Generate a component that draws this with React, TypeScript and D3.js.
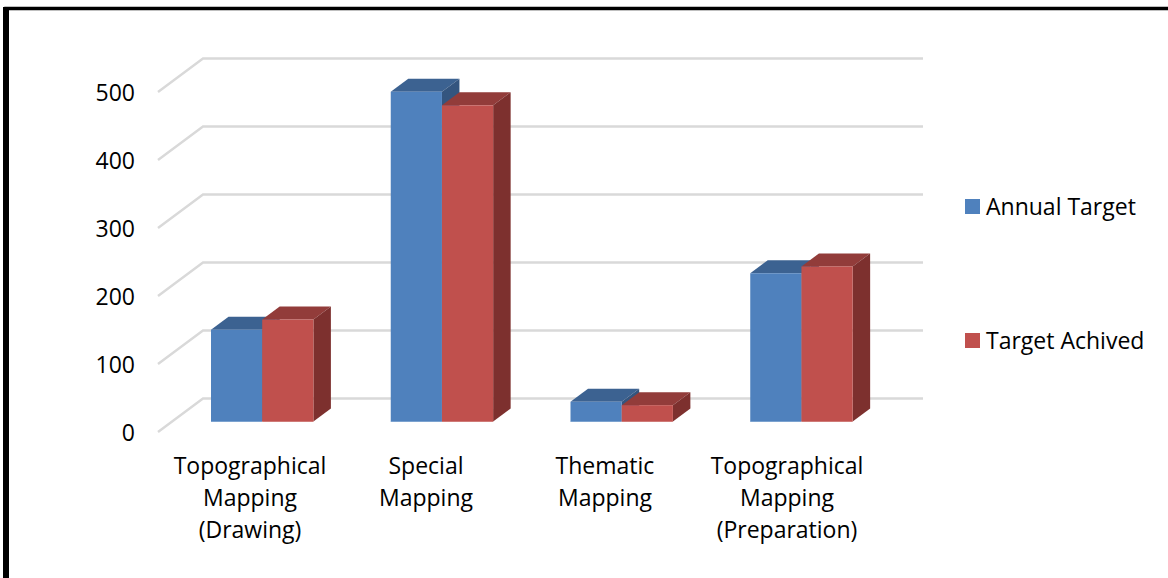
import React from "react";
import * as d3 from "d3";

const categories = ["Topographical Mapping (Drawing)", "Special Mapping", "Thematic Mapping", "Topographical Mapping (Preparation)"];
const categoryLines = [["Topographical", "Mapping", "(Drawing)"], ["Special", "Mapping"], ["Thematic", "Mapping"], ["Topographical", "Mapping", "(Preparation)"]];
const labelCentres = [250, 426, 605, 787];
const annualTarget = [135, 485, 29, 218];
const targetAchieved = [150, 465, 24, 228];
const seriesNames = ["Annual Target", "Target Achived"];
const ticks = [0, 100, 200, 300, 400, 500];

const font = "'Open Sans', sans-serif";
const frontColors = ["#4f81bd", "#c0504d"];
const edgeColors = ["#a9c2e0", "#dfa5a3"];
const topColors = ["#3c6291", "#923c3a"];
const sideColors = ["#34557f", "#7d302e"];

const y = d3.scaleLinear().domain([0, 500]).range([432, 92]);
const x = d3.scaleBand().domain(categories).range([158, 877]);
const wallDx = 45, wallDy = -33.5;
const barDx = 17.5, barDy = -13;
const floorLift = 10.5;
const barW = 51.2;
const barOffset = 53;
const wallRight = 923;

function Bar({ x0, value, s }: { x0: number; value: number; s: number }) {
  const yb = y(0) - floorLift;
  const yt = y(value) - floorLift;
  const x1 = x0 + barW;
  return (
    <g>
      <polygon points={`${x0},${yt} ${x0 + barDx},${yt + barDy} ${x1 + barDx},${yt + barDy} ${x1},${yt}`} fill={topColors[s]} />
      <polygon points={`${x1},${yt} ${x1 + barDx},${yt + barDy} ${x1 + barDx},${yb + barDy} ${x1},${yb}`} fill={sideColors[s]} />
      <line x1={x0} x2={x1} y1={yb} y2={yb} stroke={edgeColors[s]} strokeWidth={1.2} />
      <rect x={x0} y={yt} width={barW} height={yb - yt} fill={frontColors[s]} />
    </g>
  );
}

export default function App() {
  return (
    <svg width={1168} height={578} style={{ position: "absolute", left: 0, top: 0, background: "#fff" }}>
      <rect x={6} y={8.5} width={1170} height={580} fill="none" stroke="#000" strokeWidth={3.5} />
      <rect x={3} y={7} width={6} height={571} fill="#000" />
      {ticks.map((t) => (
        <g key={t}>
          <polyline
            points={`${x.range()[0]},${y(t)} ${x.range()[0] + wallDx},${y(t) + wallDy} ${wallRight},${y(t) + wallDy}`}
            fill="none" stroke="#d9d9d9" strokeWidth={2.4}
          />
          <text x={135} y={y(t) + 8.5} textAnchor="end" fontFamily={font} fontSize={23} fill="#000">{t}</text>
        </g>
      ))}
      {categories.map((c, i) => {
        const x0 = (x(c) as number) + barOffset;
        return (
          <g key={c}>
            <Bar x0={x0} value={annualTarget[i]} s={0} />
            <Bar x0={x0 + barW} value={targetAchieved[i]} s={1} />
            <text fontFamily={font} fontSize={23} fill="#000" textAnchor="middle">
              {categoryLines[i].map((l, k) => (
                <tspan key={k} x={labelCentres[i]} y={474 + k * 32}>{l}</tspan>
              ))}
            </text>
          </g>
        );
      })}
      {seriesNames.map((n, i) => (
        <g key={n}>
          <rect x={965} y={199 + i * 134} width={15} height={15} fill={frontColors[i]} />
          <text x={986} y={215 + i * 134} fontFamily={font} fontSize={23} fill="#000">{n}</text>
        </g>
      ))}
    </svg>
  );
}
